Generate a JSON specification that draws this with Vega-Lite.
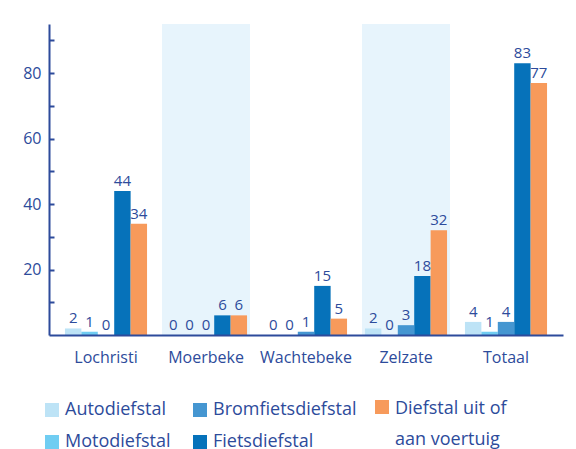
{
  "$schema": "https://vega.github.io/schema/vega-lite/v6.json",
  "width": 514,
  "height": 311,
  "autosize": "none",
  "padding": {"left": 49, "top": 24, "right": 13, "bottom": 114},
  "background": "white",
  "config": {
    "view": {"stroke": null},
    "font": "Open Sans",
    "text": {"font": "Open Sans"},
    "axisX": {
      "title": null,
      "labelAngle": 0,
      "labelAlign": "center",
      "labelBaseline": "top",
      "ticks": false,
      "domainColor": "#2d4b9b",
      "domainWidth": 2,
      "labelColor": "#2d4b9b",
      "labelFontSize": 16,
      "labelPadding": 14
    },
    "axisY": {
      "title": null,
      "grid": false,
      "labelOverlap": false,
      "domainColor": "#2d4b9b",
      "domainWidth": 2,
      "tickColor": "#2d4b9b",
      "tickWidth": 2,
      "tickSize": -5,
      "labelColor": "#2d4b9b",
      "labelFontSize": 16,
      "labelPadding": 13
    },
    "legend": {
      "title": null,
      "orient": "none",
      "symbolType": "square",
      "symbolSize": 196,
      "symbolStrokeWidth": 0,
      "symbolOpacity": 1,
      "labelFontSize": 18,
      "labelColor": "#2d4b9b",
      "labelOffset": 4,
      "labelLimit": 300
    }
  },
  "datasets": {
    "bars": [
      {"gemeente": "Lochristi", "type": "Autodiefstal", "aantal": 2},
      {"gemeente": "Lochristi", "type": "Motodiefstal", "aantal": 1},
      {"gemeente": "Lochristi", "type": "Bromfietsdiefstal", "aantal": 0},
      {"gemeente": "Lochristi", "type": "Fietsdiefstal", "aantal": 44},
      {"gemeente": "Lochristi", "type": "Diefstal uit of aan voertuig", "aantal": 34},
      {"gemeente": "Moerbeke", "type": "Autodiefstal", "aantal": 0},
      {"gemeente": "Moerbeke", "type": "Motodiefstal", "aantal": 0},
      {"gemeente": "Moerbeke", "type": "Bromfietsdiefstal", "aantal": 0},
      {"gemeente": "Moerbeke", "type": "Fietsdiefstal", "aantal": 6},
      {"gemeente": "Moerbeke", "type": "Diefstal uit of aan voertuig", "aantal": 6},
      {"gemeente": "Wachtebeke", "type": "Autodiefstal", "aantal": 0},
      {"gemeente": "Wachtebeke", "type": "Motodiefstal", "aantal": 0},
      {"gemeente": "Wachtebeke", "type": "Bromfietsdiefstal", "aantal": 1},
      {"gemeente": "Wachtebeke", "type": "Fietsdiefstal", "aantal": 15},
      {"gemeente": "Wachtebeke", "type": "Diefstal uit of aan voertuig", "aantal": 5},
      {"gemeente": "Zelzate", "type": "Autodiefstal", "aantal": 2},
      {"gemeente": "Zelzate", "type": "Motodiefstal", "aantal": 0},
      {"gemeente": "Zelzate", "type": "Bromfietsdiefstal", "aantal": 3},
      {"gemeente": "Zelzate", "type": "Fietsdiefstal", "aantal": 18},
      {"gemeente": "Zelzate", "type": "Diefstal uit of aan voertuig", "aantal": 32},
      {"gemeente": "Totaal", "type": "Autodiefstal", "aantal": 4},
      {"gemeente": "Totaal", "type": "Motodiefstal", "aantal": 1},
      {"gemeente": "Totaal", "type": "Bromfietsdiefstal", "aantal": 4},
      {"gemeente": "Totaal", "type": "Fietsdiefstal", "aantal": 83},
      {"gemeente": "Totaal", "type": "Diefstal uit of aan voertuig", "aantal": 77}
    ],
    "bands": [
      {"gemeente": "Moerbeke"},
      {"gemeente": "Zelzate"}
    ]
  },
  "layer": [
    {
      "data": {"name": "bands"},
      "mark": {"type": "rect", "color": "#e7f4fc"},
      "encoding": {
        "x": {
          "field": "gemeente",
          "type": "nominal",
          "scale": {"domain": ["Lochristi", "Moerbeke", "Wachtebeke", "Zelzate", "Totaal"], "paddingInner": 0.12, "paddingOuter": 0.13}
        }
      }
    },
    {
      "data": {"name": "bars"},
      "transform": [{"filter": "datum.type != 'Diefstal uit of aan voertuig'"}],
      "mark": {"type": "bar"},
      "encoding": {
        "x": {"field": "gemeente", "type": "nominal"},
        "xOffset": {
          "field": "type",
          "type": "nominal",
          "scale": {"domain": ["Autodiefstal", "Motodiefstal", "Bromfietsdiefstal", "Fietsdiefstal", "Diefstal uit of aan voertuig"], "paddingInner": 0, "paddingOuter": 0.18}
        },
        "y": {
          "field": "aantal",
          "type": "quantitative",
          "scale": {"domain": [0, 95], "nice": false},
          "axis": {
            "values": [10, 20, 30, 40, 50, 60, 70, 80, 90],
            "tickCount": 20,
            "labelExpr": "datum.value % 20 == 0 ? datum.label : ''"
          }
        },
        "color": {
          "field": "type",
          "type": "nominal",
          "scale": {
            "domain": ["Autodiefstal", "Bromfietsdiefstal", "Motodiefstal", "Fietsdiefstal"],
            "range": ["#bde3f6", "#4596d1", "#70cdf2", "#0672ba"]
          },
          "legend": {
            "legendX": -6,
            "legendY": 377,
            "direction": "horizontal",
            "columns": 2,
            "columnPadding": 20,
            "rowPadding": 14
          }
        }
      }
    },
    {
      "data": {"name": "bars"},
      "transform": [{"filter": "datum.type == 'Diefstal uit of aan voertuig'"}],
      "mark": {"type": "bar"},
      "encoding": {
        "x": {"field": "gemeente", "type": "nominal"},
        "xOffset": {"field": "type", "type": "nominal"},
        "y": {"field": "aantal", "type": "quantitative"},
        "fill": {
          "field": "type",
          "type": "nominal",
          "scale": {"domain": ["Diefstal uit of aan voertuig"], "range": ["#f79a5b"]},
          "legend": {
            "legendX": 324,
            "legendY": 374,
            "labelBaseline": "top",
            "labelExpr": "['Diefstal uit of', 'aan voertuig']",
            "encode": {
              "labels": {
                "update": {
                  "lineHeight": {"value": 31},
                  "dy": {"value": -7}
                }
              }
            }
          }
        }
      }
    },
    {
      "data": {"name": "bars"},
      "mark": {"type": "text", "baseline": "alphabetic", "dy": -5, "fontSize": 15, "color": "#2d4b9b"},
      "encoding": {
        "x": {"field": "gemeente", "type": "nominal"},
        "xOffset": {"field": "type", "type": "nominal"},
        "y": {"field": "aantal", "type": "quantitative"},
        "text": {"field": "aantal", "type": "quantitative"}
      }
    }
  ]
}
